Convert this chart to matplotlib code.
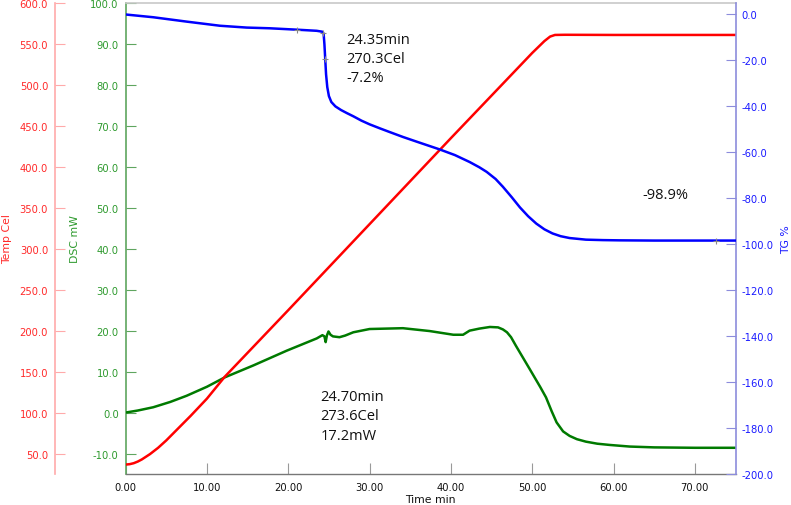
import matplotlib
matplotlib.use("Agg")
import matplotlib.pyplot as plt
import numpy as np
from matplotlib.ticker import FormatStrFormatter

# ---------------- data ----------------
temp_t = [0, 0.5, 1, 1.5, 2, 3, 4, 5, 6, 8, 10, 12.2, 20, 30, 40, 45, 50, 51.5, 52.2, 52.8, 54, 60, 65, 70, 75]
temp_v = [36.5, 37, 38.2, 40.2, 42.8, 49.3, 57, 66, 76, 96, 117, 143.8, 225, 330, 435, 487, 539, 553.5, 559, 561, 561.2, 561, 561, 561, 561]

dsc_t = [0, 1.5, 3.4, 5.5, 7.5, 10, 12.2, 15.7, 19.8, 23.5, 24.2, 24.45, 24.6, 24.75, 24.95, 25.2, 25.5, 26.3, 27,
         28, 30, 34.1, 37.4, 40.3, 41.5, 42.3, 43.5, 44.8, 45.8, 46.4, 46.9, 47.4, 48, 49.7, 51, 51.7, 52.4, 53,
         53.8, 54.6, 55.5, 56.6, 58, 59.5, 62, 65, 70, 75]
dsc_v = [0, 0.5, 1.3, 2.6, 4.1, 6.3, 8.6, 11.5, 15.1, 18.1, 18.9, 18.6, 17.2, 18.8, 19.8, 19.0, 18.6, 18.4, 18.8,
         19.6, 20.4, 20.6, 19.9, 19.0, 19.0, 20.0, 20.5, 20.9, 20.8, 20.3, 19.6, 18.4, 16.3, 10.6, 6.2, 3.7, 0.3, -2.4,
         -4.6, -5.7, -6.5, -7.1, -7.6, -7.9, -8.3, -8.5, -8.6, -8.6]

tg_t = [0, 3.4, 7.5, 11.6, 14.9, 17.7, 21.0, 23.5, 24.2, 24.35, 24.45, 24.55, 24.65, 24.8, 25.0, 25.3, 25.8, 26.5,
        27.2, 28, 29, 30, 31.3, 32.5, 34.1, 36, 38.6, 40.5, 42.3, 43.5, 44.4, 45.5, 46.4, 47.5, 48.5, 49.5, 50.5,
        51.5, 52.5, 53.5, 54.6, 56.6, 58.7, 60.7, 65, 70, 75]
tg_v = [0, -1.2, -3.1, -4.9, -5.7, -6.0, -6.6, -7.1, -7.5, -8.3, -13, -19.5, -26, -31.6, -35.5, -38.1, -40, -41.6,
        -42.9, -44.3, -46.2, -47.8, -49.6, -51.2, -53.3, -55.6, -58.7, -61.2, -64.2, -66.5, -68.5, -71.6, -75, -79.6,
        -84, -87.8, -91, -93.5, -95.3, -96.5, -97.3, -98, -98.2, -98.3, -98.4, -98.4, -98.4]

marker_t = [21.1, 24.3, 24.55, 72.6]

x_ticks = [0, 10, 20, 30, 40, 50, 60, 70]
temp_ticks = [50, 100, 150, 200, 250, 300, 350, 400, 450, 500, 550, 600]
dsc_ticks = [-10, 0, 10, 20, 30, 40, 50, 60, 70, 80, 90, 100]
tg_ticks = [-200, -180, -160, -140, -120, -100, -80, -60, -40, -20, 0]

ann1 = "24.35min\n270.3Cel\n-7.2%"
ann2 = "24.70min\n273.6Cel\n17.2mW"
ann3 = "-98.9%"

# ---------------- figure ----------------
plt.rcParams['font.family'] = ['DejaVu Sans']
fig = plt.figure(figsize=(7.91, 5.06), dpi=100)
ax = fig.add_axes([125.6 / 791, 1 - 475 / 506, (735.5 - 125.6) / 791, (475 - 4) / 506])
axT = ax.twinx()
axG = ax.twinx()

RED_T, RED_S = '#ff2a2a', '#ffaaaa'
GRN_T, GRN_S = '#2e9a2e', '#5fa55f'
BLU_T, BLU_S = '#1a1aff', '#8c8cdc'

# lines
axT.plot(temp_t, temp_v, color='#ff0000', lw=1.8, zorder=3)
ax.plot(dsc_t, dsc_v, color='#007a00', lw=1.8, zorder=3)
axG.plot(tg_t, tg_v, color='#0000ff', lw=1.8, zorder=3)
axG.plot(marker_t, np.interp(marker_t, tg_t, tg_v), ls='none', marker='+', ms=5,
         mew=0.8, color='#888888', zorder=4)

# limits
ax.set_xlim(0, 75)
ax.set_ylim(-15, 100)
axT.set_ylim(25, 600)
axG.set_ylim(-200, 5)

# x axis
ax.set_xticks(x_ticks)
ax.xaxis.set_major_formatter(FormatStrFormatter('%.2f'))
ax.tick_params(axis='x', direction='in', length=8, width=0.8, color='#999999',
               labelsize=7.2, labelcolor='#111111', pad=6)
ax.set_xlabel('Time min', fontsize=7.8, color='#111111', labelpad=1)

# DSC axis (inner left)
ax.set_yticks(dsc_ticks)
ax.yaxis.set_major_formatter(FormatStrFormatter('%.1f'))
ax.tick_params(axis='y', direction='in', length=7, width=0.8, color=GRN_S,
               labelsize=7.2, labelcolor=GRN_T, pad=5)
ax.set_ylabel('DSC mW', fontsize=7.8, color=GRN_T)
ax.yaxis.set_label_coords((80 - 125.6) / 610, 0.5)
ax.spines['left'].set_color(GRN_S)
ax.spines['left'].set_linewidth(1.2)
ax.spines['right'].set_visible(False)
ax.spines['top'].set_color('#c8c8c8')
ax.spines['top'].set_linewidth(1.2)
ax.spines['bottom'].set_color('#777777')
ax.spines['bottom'].set_linewidth(1.0)

# Temp axis (outer left)
for s in ['right', 'top', 'bottom']:
    axT.spines[s].set_visible(False)
axT.spines['left'].set_visible(True)
axT.spines['left'].set_position(('axes', (55 - 125.6) / 610))
axT.spines['left'].set_color(RED_S)
axT.spines['left'].set_linewidth(1.2)
axT.yaxis.set_ticks_position('left')
axT.yaxis.set_label_position('left')
axT.set_yticks(temp_ticks)
axT.yaxis.set_major_formatter(FormatStrFormatter('%.1f'))
axT.tick_params(axis='y', direction='in', length=7, width=0.8, color=RED_S,
                labelsize=7.2, labelcolor=RED_T, pad=5)
axT.set_ylabel('Temp Cel', fontsize=7.8, color=RED_T)
axT.yaxis.set_label_coords((12.5 - 125.6) / 610, 0.5)

# TG axis (right)
for s in ['left', 'top', 'bottom']:
    axG.spines[s].set_visible(False)
axG.spines['right'].set_color(BLU_S)
axG.spines['right'].set_linewidth(1.2)
axG.set_yticks(tg_ticks)
axG.yaxis.set_major_formatter(FormatStrFormatter('%.1f'))
axG.tick_params(axis='y', direction='in', length=7, width=0.8, color=BLU_S,
                labelsize=7.2, labelcolor=BLU_T, pad=4)
axG.set_ylabel('TG %', fontsize=7.8, color=BLU_T)
axG.yaxis.set_label_coords((781 - 125.6) / 610, 0.5)

# annotations
kw = dict(transform=ax.transAxes, fontsize=10.5, family=['Open Sans', 'DejaVu Sans'],
          color='#111111', ha='left', va='center', linespacing=1.37, zorder=5)
ax.text((346.7 - 125.6) / 610, 1 - (59.3 - 4) / 471, ann1, **kw)
ax.text((320.7 - 125.6) / 610, 1 - (417 - 4) / 471, ann2, **kw)
ax.text((642.7 - 125.6) / 610, 1 - (195.7 - 4) / 471, ann3, **kw)

fig.savefig('out.png', dpi=100)
